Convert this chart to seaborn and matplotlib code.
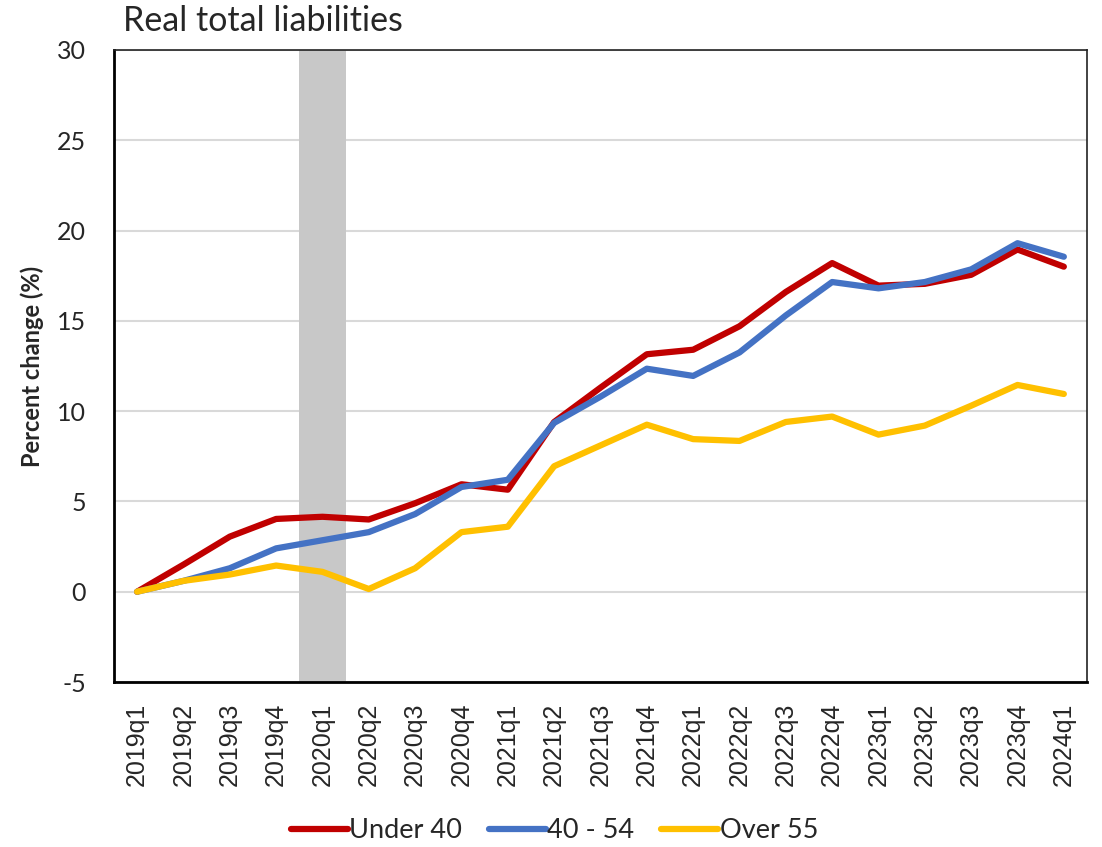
import seaborn as sns
import matplotlib.pyplot as plt
import pandas as pd

quarters = ['2019q1', '2019q2', '2019q3', '2019q4', '2020q1', '2020q2', '2020q3',
            '2020q4', '2021q1', '2021q2', '2021q3', '2021q4', '2022q1', '2022q2',
            '2022q3', '2022q4', '2023q1', '2023q2', '2023q3', '2023q4', '2024q1']

under_40 = [0, 1.5, 3.05, 4.03, 4.15, 4.0, 4.9, 5.95, 5.65, 9.4, 11.3, 13.15,
            13.4, 14.7, 16.6, 18.2, 16.95, 17.05, 17.55, 18.95, 18.0]
age_40_54 = [0, 0.6, 1.3, 2.4, 2.85, 3.3, 4.3, 5.8, 6.2, 9.35, 10.8, 12.35,
             11.95, 13.25, 15.3, 17.15, 16.8, 17.15, 17.85, 19.3, 18.55]
over_55 = [0, 0.6, 0.95, 1.45, 1.1, 0.15, 1.3, 3.3, 3.6, 6.95, 8.1, 9.25,
           8.45, 8.35, 9.4, 9.7, 8.7, 9.2, 10.3, 11.45, 10.95]

groups = ['Under 40', '40 - 54', 'Over 55']
colors = ['#C00000', '#4472C4', '#FFC000']
shaded_quarter = '2020q1'

df = pd.DataFrame({
    'quarter': quarters * 3,
    'pos': list(range(len(quarters))) * 3,
    'value': under_40 + age_40_54 + over_55,
    'group': [g for g in groups for _ in quarters],
})

sns.set_style('white')
plt.rcParams['font.family'] = ['Liberation Sans', 'DejaVu Sans']
plt.rcParams['axes.unicode_minus'] = False

fig = plt.figure(figsize=(11.02, 8.47), dpi=100)
ax = fig.add_axes([0.1034, 0.1948, 0.8830, 0.7462])

# gridlines first, then shaded quarter, then the lines
for yv in range(-5, 31, 5):
    ax.axhline(yv, color='#D9D9D9', lw=1.5, zorder=0)

i_sh = quarters.index(shaded_quarter)
ax.axvspan(i_sh - 0.5, i_sh + 0.5, color='#C8C8C8', lw=0, zorder=1)

sns.lineplot(data=df, x='pos', y='value', hue='group', hue_order=groups,
             palette=colors, lw=4.5, ax=ax, legend=False, zorder=3,
             solid_capstyle='round')

ax.set_xlim(-0.5, len(quarters) - 0.5)
ax.set_ylim(-5, 30)
ax.set_yticks(range(-5, 31, 5))
ax.set_yticklabels([str(v) for v in range(-5, 31, 5)], family='Lato', fontsize=18)
ax.set_xticks(range(len(quarters)))
ax.set_xticklabels(quarters, rotation=90, fontsize=18)
ax.set_xticks([i + 0.5 for i in range(len(quarters) - 1)], minor=True)
ax.tick_params(axis='x', which='major', length=0, pad=15)
ax.tick_params(axis='x', which='minor', direction='in', length=8, width=1.3, color='black')
ax.tick_params(axis='y', length=0, pad=20)
ax.set_xlabel('')
ax.set_ylabel('Percent change (%)', fontsize=17, fontweight='bold', family='Lato')
ax.yaxis.set_label_coords(-0.072, 0.5)

for side in ['left', 'bottom']:
    ax.spines[side].set_color('black')
    ax.spines[side].set_linewidth(2)
for side in ['top', 'right']:
    ax.spines[side].set_color('#222222')
    ax.spines[side].set_linewidth(1.2)

fig.text(0.112, 0.975, 'Real total liabilities', fontsize=24.5, family='Lato', va='center')

handles = [plt.Line2D([], [], color=c, lw=4.5, solid_capstyle='round') for c in colors]
fig.legend(handles, groups, loc='center', bbox_to_anchor=(0.503, 0.019), ncol=3,
           frameon=False, handlelength=2.1, handletextpad=0.05,
           columnspacing=1.0, prop={'family': 'Lato', 'size': 19.5})

fig.savefig('out.png', dpi=100)
